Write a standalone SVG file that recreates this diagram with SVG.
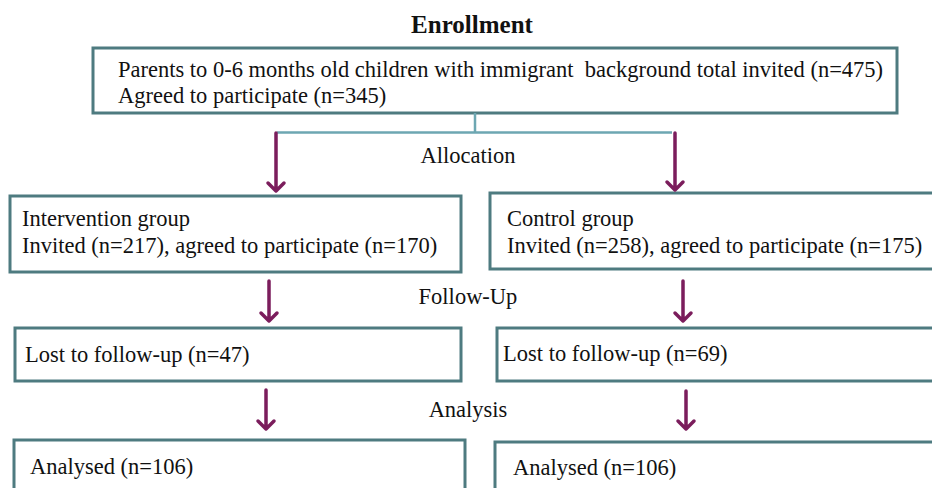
<svg xmlns="http://www.w3.org/2000/svg" width="932" height="488" viewBox="0 0 932 488">
<defs>
<style>
.box{fill:#fff;stroke:#4e7b80;stroke-width:3}
.t{font-family:"Liberation Serif","Times New Roman",serif;font-size:22.5px;fill:#111}
.h{font-family:"Liberation Serif","Times New Roman",serif;font-size:25px;font-weight:bold;fill:#111}
.split{fill:none;stroke:#6da7b2;stroke-width:2.5}
.arr{fill:none;stroke:#7b1d5c;stroke-width:3.5;stroke-linecap:round;stroke-linejoin:round}
</style>
</defs>
<rect width="932" height="488" fill="#fff"/>
<text class="h" x="472" y="33" text-anchor="middle">Enrollment</text>
<g id="enroll">
<rect class="box" x="93" y="48" width="804" height="65"/>
<text class="t" x="118" y="77" xml:space="preserve">Parents to 0-6 months old children with immigrant  background total invited (n=475)</text>
<text class="t" x="118" y="103">Agreed to participate (n=345)</text>
</g>
<text class="t" x="468" y="163" text-anchor="middle">Allocation</text>
<text class="t" x="468" y="304" text-anchor="middle">Follow-Up</text>
<text class="t" x="468" y="417" text-anchor="middle">Analysis</text>
<g id="intervention">
<rect class="box" x="10" y="196" width="451" height="76"/>
<text class="t" x="22" y="226">Intervention group</text>
<text class="t" x="22" y="253">Invited (n=217), agreed to participate (n=170)</text>
</g>
<g id="control">
<rect class="box" x="490" y="193" width="450" height="76"/>
<text class="t" x="507" y="226">Control group</text>
<text class="t" x="507" y="253">Invited (n=258), agreed to participate (n=175)</text>
</g>
<g id="lost-intervention">
<rect class="box" x="15" y="328" width="446" height="53"/>
<text class="t" x="25" y="362">Lost to follow-up (n=47)</text>
</g>
<g id="lost-control">
<rect class="box" x="497" y="328" width="443" height="53"/>
<text class="t" x="503" y="361">Lost to follow-up (n=69)</text>
</g>
<g id="analysed-intervention">
<rect class="box" x="14" y="440" width="451" height="60"/>
<text class="t" x="30" y="474">Analysed (n=106)</text>
</g>
<g id="analysed-control">
<rect class="box" x="495" y="442" width="445" height="60"/>
<text class="t" x="513" y="475">Analysed (n=106)</text>
</g>
<g id="connectors">
<path class="split" d="M475 113V132.5M277 132.5H672"/>
<path class="arr" d="M276 133V191M268 183L276 191L284 183"/>
<path class="arr" d="M675 133V190M667 182L675 190L683 182"/>
<path class="arr" d="M269 281V321M261 313L269 321L277 313"/>
<path class="arr" d="M683 281V321M675 313L683 321L691 313"/>
<path class="arr" d="M266 390V429M258 421L266 429L274 421"/>
<path class="arr" d="M686 391V429M678 421L686 429L694 421"/>
</g>
</svg>
